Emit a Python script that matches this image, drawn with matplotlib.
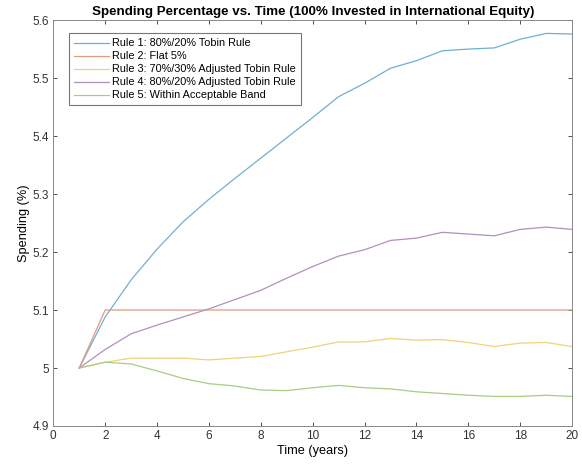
import matplotlib
matplotlib.use("Agg")
import matplotlib.pyplot as plt
from matplotlib.ticker import FuncFormatter

# years 1..20
years = list(range(1, 21))

rule1_tobin = [5.000, 5.088, 5.152, 5.205, 5.252, 5.291, 5.327, 5.362, 5.397, 5.432,
               5.468, 5.491, 5.517, 5.530, 5.547, 5.550, 5.552, 5.567, 5.577, 5.576]
rule2_flat = [5.000] + [5.100] * 19
rule3_adj7030 = [5.000, 5.010, 5.017, 5.017, 5.017, 5.014, 5.017, 5.020, 5.028, 5.036,
                 5.045, 5.045, 5.051, 5.048, 5.049, 5.044, 5.037, 5.043, 5.044, 5.037]
rule4_adj8020 = [5.000, 5.032, 5.059, 5.074, 5.088, 5.102, 5.118, 5.134, 5.155, 5.175,
                 5.193, 5.204, 5.220, 5.224, 5.234, 5.231, 5.228, 5.239, 5.243, 5.239]
rule5_band = [5.000, 5.010, 5.007, 4.995, 4.982, 4.973, 4.969, 4.962, 4.961, 4.966,
              4.970, 4.966, 4.964, 4.959, 4.956, 4.953, 4.951, 4.951, 4.953, 4.951]

series = [
    ("Rule 1: 80%/20% Tobin Rule", rule1_tobin, "#6fb0d2"),
    ("Rule 2: Flat 5%", rule2_flat, "#e29a7c"),
    ("Rule 3: 70%/30% Adjusted Tobin Rule", rule3_adj7030, "#f0d27a"),
    ("Rule 4: 80%/20% Adjusted Tobin Rule", rule4_adj8020, "#b290bc"),
    ("Rule 5: Within Acceptable Band", rule5_band, "#a9cc85"),
]

plt.rcParams["font.family"] = ["Liberation Sans", "DejaVu Sans"]

fig = plt.figure(figsize=(5.82, 4.67), dpi=100)
ax = fig.add_axes([0.0916, 0.0878, 0.983 - 0.0916, 0.957 - 0.0878])

for label, vals, col in series:
    ax.plot(years, vals, color=col, linewidth=0.9, label=label)

ax.set_xlim(0, 20)
ax.set_ylim(4.9, 5.6)
ax.set_xticks(range(0, 21, 2))
ax.set_yticks([4.9, 5.0, 5.1, 5.2, 5.3, 5.4, 5.5, 5.6])
ax.yaxis.set_major_formatter(FuncFormatter(lambda v, p: f"{v:g}"))

ax.tick_params(direction="in", length=3, width=0.6, top=True, right=True,
               labelsize=8.5, colors="#333333", pad=3)
for s in ax.spines.values():
    s.set_color("#888888")
    s.set_linewidth(0.7)

ax.set_title("Spending Percentage vs. Time (100% Invested in International Equity)",
             fontsize=9.6, fontweight="bold", pad=4)
ax.set_xlabel("Time (years)", fontsize=9.2, labelpad=2)
ax.set_ylabel("Spending (%)", fontsize=9.2, labelpad=2)

leg = ax.legend(loc="upper left", bbox_to_anchor=(0.031, 0.967), fontsize=7.8,
                frameon=True, fancybox=False, handlelength=3.2, handletextpad=0.3,
                borderpad=0.45, labelspacing=0.28, borderaxespad=0)
leg.get_frame().set_edgecolor("#555555")
leg.get_frame().set_linewidth(0.8)

fig.savefig("out.png", dpi=100)
